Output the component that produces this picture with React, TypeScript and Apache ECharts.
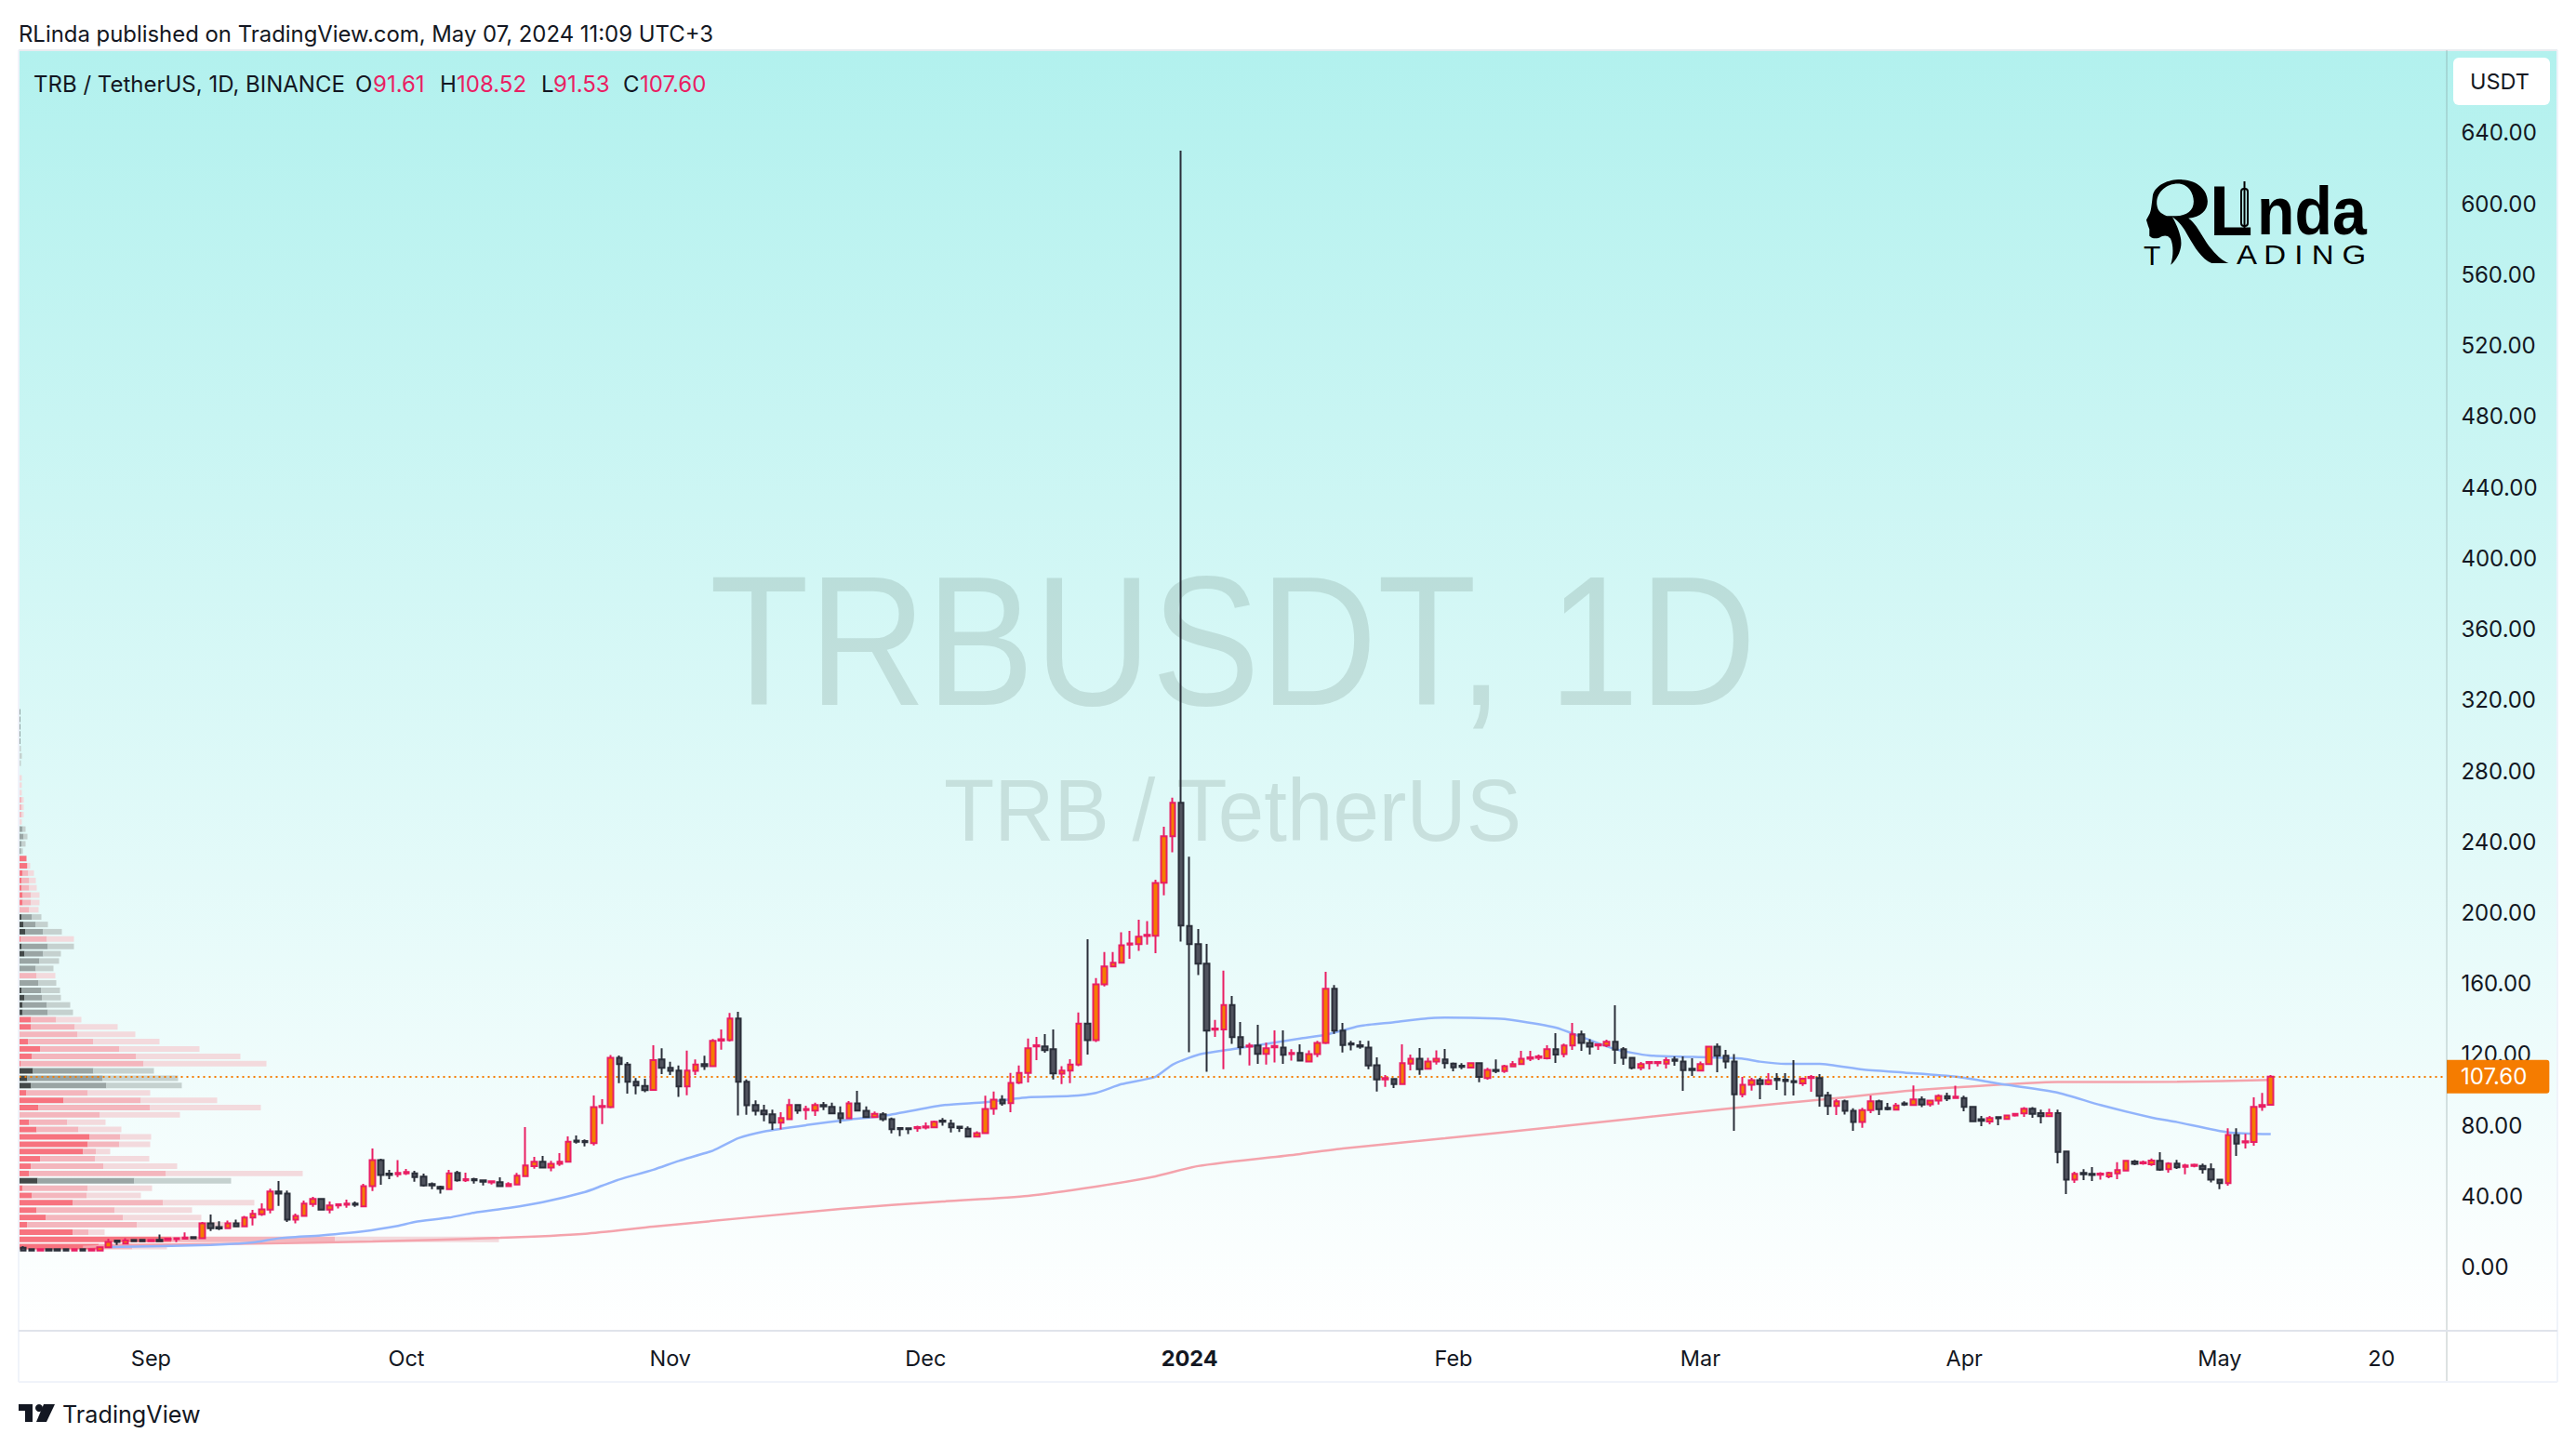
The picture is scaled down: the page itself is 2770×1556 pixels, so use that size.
import React, { useEffect, useRef } from "react";
import * as echarts from "echarts";

// ---------- daily candles, rows are [open, close, low, high] ----------
const candlesAug2023 = [[11,9.4,9.4,11.9],[10.2,9.4,9.4,10.2],[9.4,10.2,9.4,10.2],[10.2,9.4,9.4,10.2],[10.2,9.4,9.4,10.2],[10.2,9.4,9.4,10.2],[9.4,10.2,9.4,10.2],[10.2,9.4,9.4,10.2],[9.4,10.2,9.4,10.2],[9.4,11.2,9.4,11.2],[11.2,14.3,10.9,16.1],[15,14.3,12.6,15],[13.3,15,13.3,16.4],[15.4,14.7,14.7,15.4],[15.4,14.7,14.4,15.4]];
const candlesSep2023 = [[14.7,15.4,14.7,15.4],[15.4,14.7,14.7,18.5],[15.4,16.1,15,16.3],[15.9,16.4,14.2,16.4],[16.1,16.8,15.7,19.6],[17,16.3,16.3,17],[16.4,24.8,16.4,25.5],[24.8,22,20.5,29.7],[22.7,21.9,21,25.9],[22,24.8,21.5,26.4],[24.8,23.1,22.6,26.9],[23.1,28,23.1,29],[28,30.1,23.6,32.4],[29.9,32.7,28.9,36],[32.5,42.7,30.4,44.3],[42.7,41.5,34.6,48.6],[41.6,26.8,25.5,43.2],[26.8,29,24.7,30.3],[29,35.9,29,37.6],[35.7,38.5,34.1,39.7],[38.5,32.5,32,38.5],[32.5,34.8,30.4,37.1],[34.8,35.5,33.1,36],[35.2,35.9,33.6,38.1],[35.9,35.2,34.1,37.1],[34.3,45.7,34.3,47.1],[45.8,60.5,43,67],[60.5,52.1,46.5,61.2],[52.8,52,49.7,54.9],[52.5,53.2,50.9,60.4]];
const candlesOct2023 = [[53,53.7,52,55.5],[53,50.9,48.3,54.4],[51.1,46.2,45.5,52.8],[46.9,46.2,44.1,47.9],[45.3,44.3,41.5,46],[44.1,53,43.7,54.9],[53.2,49,48.3,54.4],[49,49.7,48.1,53.3],[49.7,49,47.2,50.5],[49,48.3,46.2,49],[47.8,48.5,46.7,48.5],[48,45.8,45.8,50.7],[45.8,46.9,45.8,48],[46.7,51.6,46.7,53.2],[51.4,57.4,50.9,79.1],[57,59.5,55.6,62.3],[59.5,56.3,56.3,62.8],[56.3,58.4,54.1,60],[58.4,59.5,57.2,64.4],[59.5,70.8,59.5,73.8],[71.5,70.8,69.8,74.3],[71.2,70.5,68.2,72.1],[70,90.3,68.7,96.9],[90.3,91,80.8,94.8],[90.3,118.2,89.7,119.8],[118.2,114.6,103.9,119.5],[114.4,104.6,98,115.8],[104.6,102.5,97.6,106.7],[102.3,99.9,98.8,106.3],[100.1,116.9,100.1,125.3],[117.3,112.5,109,123.5]];
const candlesNov2023 = [[112.5,110.8,108.5,115.9],[111,102,96.1,113.8],[102,111,97.1,122.2],[110.8,114.4,108.5,117.3],[114.6,113.4,111.3,119.3],[113.4,127.7,113.4,128.8],[127.9,128.6,122.7,134.2],[128.1,140.3,127.4,143.5],[140.3,104.7,85.6,144.2],[104.7,91.4,86,105.9],[91.5,88.2,85.6,94.2],[88.4,86.3,82.3,91.7],[86.3,81.6,77.5,88.9],[81.6,84.2,77.7,87.5],[83.5,91.5,83,94.9],[91.5,88.4,86.5,92.1],[88.6,89.3,83.3,91.2],[88.4,91.5,85.4,92.8],[91.5,90.7,88.7,93.3],[90.5,86.8,86.8,92.8],[86.8,84,81.2,90.7],[84,92.4,84,93.8],[92.4,88.4,88.4,99.6],[88.2,84.7,84.7,90.7],[84.7,86.5,84.7,87.9],[86.3,83.5,82.4,87.5],[83.5,77.9,75.5,84.4],[78.6,77.9,73.9,79.1],[78.4,77.9,75.1,78.4],[78.4,79.1,76.5,79.8]];
const candlesDec2023 = [[78.8,79.5,77.7,81.7],[78.9,82.1,78.9,82.8],[82.8,82.1,79.8,84.2],[81,78.9,76,83.3],[79.3,78.6,76.3,79.3],[78.2,73.7,73.7,79.5],[73.7,75.6,73.7,76.7],[75.6,89.3,75.3,96.8],[89.4,94.5,86,99.1],[94.5,92.4,91.2,97],[92.6,104,87.5,109.6],[104.1,109.7,103.3,113.8],[109.7,123.5,104.3,129],[124.6,125.3,116.9,130],[124.6,122.5,121.1,131.6],[123,109.4,105.9,134.2],[109.2,111,103.3,113.4],[111,114.4,103.8,117.4],[114.4,137.5,113.4,143.7],[137.5,128.1,120,185.1],[128.1,159.6,127.1,163.1],[159.6,169.7,158.5,177.8],[169.7,171.8,169.7,177.8],[171.8,181.6,171.8,189],[182,182.7,174.1,189.8],[182.3,186.5,178.5,196.1],[186.9,187.6,182,195.3],[187,216.8,177.2,218.7],[216.9,243.2,209.9,248.6],[243.2,262.1,234.1,264.9],[262.1,192.8,183.7,630]];
const candlesJan2024 = [[192.6,182.3,121.3,231.6],[182.3,171.3,164.8,190.9],[171.3,133.5,110.3,182.5],[134,134.7,130,139.5],[134.2,148,111.7,167.3],[148,129.8,126,153.1],[129.8,124.2,119.7,138.4],[124.4,125.1,113.9,126.5],[125.1,120.4,114.8,136.8],[120.4,123.5,114.4,126.7],[124.1,124.8,115.5,133.7],[123.9,119.9,114.8,133.7],[120.2,120.9,116.6,123],[120.9,116.6,116.6,125.8],[116.1,120.3,116.1,122.4],[120.3,126.5,118.6,127.7],[126.5,157.1,125.9,166.7],[157.1,133.5,131.7,159.2],[133.5,125.4,121.2,137.8],[126.3,125.6,122.3,127.7],[125.2,124.5,123.3,127.9],[124,113.9,111.8,127.7],[114,106,99.2,118.4],[106,106.7,101.8,108.4],[106.2,103.4,101.1,106.2],[103.4,115.1,103.4,125.8],[114.9,117.7,111.1,120],[117.7,111.8,108.6,123.7],[112,116.1,112,118.2],[116,117.7,114.4,122.4],[117.2,115.1,112.1,123.1]];
const candlesFeb2024 = [[114.9,112.8,110.5,115.6],[113.7,113,111.8,115.1],[112.6,115.1,112.1,115.1],[115.1,107.4,104.4,115.1],[106.7,111.4,105.8,112.5],[111.4,110.7,109.5,117.2],[110.7,113.5,109.7,114.2],[113.3,114.6,113.3,116.3],[114.6,117.7,114.6,122.1],[117.7,118.4,116.3,122.1],[118.2,118.9,116.8,120],[117.9,123,117.2,125.2],[123,120,115.3,132.1],[120.2,125.1,118.4,126.1],[125.1,131.4,122.6,137.8],[131.4,126.5,122.1,133.5],[126.5,124.5,120,128.7],[125.1,125.8,122.6,126.3],[125.1,127.2,124.2,128.4],[127.2,122.8,114.7,147.8],[123,118.2,114.2,124.2],[118.2,112.5,111.6,118.2],[112.5,114.6,111.1,115.8],[115.1,115.8,111.6,116.3],[115.1,115.8,113.3,116.3],[114.9,116.8,112.1,118.4],[117.2,116.5,113.7,118.9],[116.1,111.2,99.5,118.9],[112,111.2,107.9,117.9]];
const candlesMar2024 = [[110.9,114.6,110.9,116.1],[114.6,124.5,114.6,124.5],[124.5,119.3,110,126.3],[119.3,116,112.1,122.6],[116.1,97.6,77,120.3],[97.6,103,95.9,107.4],[103,105.6,99.7,106.9],[105.6,103.4,94.8,106.9],[103.4,105.6,102.7,109.5],[106.3,105.6,100.1,109.5],[105.8,105.1,96.9,109.5],[105.1,104.4,96.9,116.8],[103.7,106.3,102.3,107],[106.7,107.4,99,108.4],[106.7,96.7,90.6,109],[97.1,91,85.9,99],[91,93.6,85.9,94.8],[93.6,88.2,86.2,94.6],[88.2,81.9,77,89.7],[81.9,88.7,78.7,89.9],[88.7,93.6,86.9,96.9],[93.6,89.2,85.9,94.5],[89.9,89.2,88.5,92.7],[88.9,91.3,88.9,92.7],[92.5,91.8,91,93.6],[91.5,94.7,91.5,102.6],[94.7,91.8,90.3,96.4],[91.9,94,90.6,94.3],[94,96.7,91.8,97.6],[96.5,95.2,93.8,98.5],[95.5,96.2,95.5,102.4]];
const candlesApr2024 = [[95.5,90.5,88,96.8],[90.5,82.4,81.9,91],[83.5,82.6,79.6,85.4],[82.2,84.2,80.7,85.4],[84.7,84,80.1,84.7],[83.6,85.6,83.6,86.1],[85.6,86.6,85,87],[86.8,89.4,84.9,90.3],[89.4,86.6,84.3,90.3],[87,85.2,81.2,88.9],[85.2,87,85.2,89.4],[87,65.1,58.6,88.9],[65.3,49.4,41.3,65.3],[49.4,52.7,47.6,53.9],[53.2,52.5,49.2,55.3],[52.7,52,48.7,56.5],[52.2,52.9,49.4,53.6],[51.3,53.2,50.2,53.9],[53,54.8,49.7,59.2],[54.6,60,54.3,60],[59.7,58.3,57.6,60.6],[58.6,59.3,57.8,60.2],[58.1,60.2,57.2,61.3],[60,55.1,54.4,64.9],[55.3,58.5,53.4,59.2],[58.5,56.4,55.5,60.6],[56.7,57.4,52.5,58.3],[57.1,57.8,56.4,58.5],[57.1,55.3,52.9,58.5],[55.3,49.4,47.8,58.6]];
const candlesMay2024 = [[49.4,47.4,44.1,49.4],[47.4,74.6,46,78.4],[74.6,69.8,62.8,78.4],[70.4,71.1,67,75.3],[70.7,90.5,68.6,95.9],[90.5,91.5,88.2,98.3],[91.61,107.6,91.53,108.52]];

const candles = [...candlesAug2023, ...candlesSep2023, ...candlesOct2023, ...candlesNov2023, ...candlesDec2023, ...candlesJan2024, ...candlesFeb2024, ...candlesMar2024, ...candlesApr2024, ...candlesMay2024];

// ---------- moving averages, [candle index, price] ----------
const blueAverage = [[10,11.4],[21.6,12.6],[26.5,14],[30.4,16.3],[35.3,18],[40.1,20.3],[43.6,23.3],[46,25.5],[50,28],[53,30.8],[57,33.4],[60.6,36.7],[66,42.5],[68,46],[70,49.5],[73.7,55],[76.6,60],[80.5,65.8],[83.7,72.8],[87.4,76.6],[92.2,80.2],[97,83.3],[101,85.4],[107.9,91.4],[112.7,93.1],[117.6,95.9],[122.5,96.6],[126,98.4],[129.3,103.3],[133,107.5],[135,114.3],[137.8,119.9],[142,123],[150,129.1],[152.6,131.2],[157,136.1],[161,138.2],[164.9,140.5],[167.3,140.8],[173,140.3],[175,139.4],[180,135.2],[183.4,130],[186.8,123],[191,119.5],[198,118.4],[201.9,117.7],[203.9,116],[207,114.8],[211,114.8],[215.8,111.6],[220.9,109.8],[226.8,107.5],[233,102.9],[238.7,98.5],[243.7,91.5],[249.8,84.5],[253.3,81.9],[258.8,76.1],[264,75.1]];
const redAverage = [[7,11.5],[11.9,12.6],[26.5,13.3],[41,14.5],[55.8,16.6],[65.5,18.9],[73.7,22.9],[95.7,32.9],[107.9,37.1],[117.6,40.3],[126,45.5],[133,51.3],[137.8,57.1],[150,63.9],[155,67],[166.8,72.8],[180,79.2],[198.9,88.9],[213.5,95.9],[221,99.4],[227,101.5],[238.7,104.5],[253.3,104.6],[264,105.7]];

// ---------- visible-range volume profile, top row to bottom row ----------
const vpPrices = [313.3,309.2,305,300.9,296.8,292.6,288.5,284.4,280.2,276.1,272,267.8,263.7,259.6,255.4,251.3,247.2,243,238.9,234.8,230.6,226.5,222.4,218.2,214.1,210,205.8,201.7,197.6,193.4,189.3,185.2,181,176.9,172.8,168.6,164.5,160.4,156.2,152.1,148,143.8,139.7,135.6,131.4,127.3,123.2,119,114.9,110.8,106.6,102.5,98.4,94.2,90.1,86,81.8,77.7,73.6,69.4,65.3,61.2,57,52.9,48.8,44.6,40.5,36.4,32.2,28.1,24,19.8,15.7,11.6];
const vpInner = [1,1,1,1,1,0,0,0,0,0,0,0,1,1,1,0,1,1,1,1,8,9,4,3,3,4,4,1,3,5,7,2,3,6,1,1,0.5,0.5,3,6,4,4,13,13,1,10,23,14,2,15,9,13,8,48,21,1,11,19,76,74,69,23,13,11,20,4,14,58,19,29,9,58,164,86];
const vpMiddle = [1,1,1,1,1,0,0,0,0,0,0,0,3,3,3,0,4,5,3,2,8,9,10,11,11,13,13,11,14,18,26,30,31,26,22,18,19,21,24,25,30,31,40,60,63,80,108,126,134,80,90,94,74,131,141,87,52,64,109,108,83,82,91,158,124,74,73,155,103,112,127,75,340,122];
const vpOuter = [1,1,1,1,1,2,3,2,0,3,3,3,5,5,5,3,7,9,7,4,8,12,16,18,19,22,22,21,24,31,46,59,59,45,43,37,39,40,44,45,55,58,67,106,125,151,194,238,266,145,171,175,141,213,260,173,93,110,142,141,98,140,170,305,228,143,131,253,186,196,240,92,516,159];
const vpIsRed = [0,0,0,0,0,0,0,0,0,1,1,1,1,1,1,1,0,0,0,0,1,1,1,1,1,1,1,1,0,0,0,1,0,0,0,0,1,0,0,0,0,0,1,1,1,1,1,1,1,0,0,0,1,1,1,1,1,1,1,1,1,1,1,1,0,1,1,1,1,1,1,1,1,1];

const priceTicks = [0,40,80,120,160,200,240,280,320,360,400,440,480,520,560,600,640];
const timeLabels: Record<number, string> = { 15: "Sep", 45: "Oct", 76: "Nov", 106: "Dec", 137: "{b|2024}", 168: "Feb", 197: "Mar", 228: "Apr", 258: "May", 277: "20" };
const categories: string[] = [];
for (let i = 0; i < 285; i++) {
  categories.push(new Date(Date.UTC(2023, 7, 17 + i)).toISOString().slice(0, 10));
}
const legendParts = [
  { text: "TRB / TetherUS, 1D, BINANCE", x: 36, fill: "#131722" },
  { text: "O", x: 382, fill: "#131722" },
  { text: "91.61", x: 401, fill: "#E91E63" },
  { text: "H", x: 473, fill: "#131722" },
  { text: "108.52", x: 491, fill: "#E91E63" },
  { text: "L", x: 582, fill: "#131722" },
  { text: "91.53", x: 595, fill: "#E91E63" },
  { text: "C", x: 670, fill: "#131722" },
  { text: "107.60", x: 688, fill: "#E91E63" },
];
const lastClose = 107.6;

const rlindaPath =
  "M195 540C205 505 250 488 290 490C340 492 372 525 372 560C372 590 350 610 310 615C340 635 355 680 385 715C405 740 425 755 440 760L385 760C350 745 325 700 305 665C295 645 280 625 258 610C275 640 292 680 285 710C280 735 265 755 253 765C262 735 262 700 252 680C240 668 230 670 215 678C200 682 190 678 184 672L184 650L180 640L174 620L185 600C190 590 192 565 195 540Z" +
  "M208 570C210 590 220 600 240 607L270 607C305 607 327 590 327 560C327 535 310 503 275 503C240 503 205 530 208 570Z";
echarts.graphic.registerShape("rlindaHead", echarts.graphic.extendPath(rlindaPath, {}));

const UI = "Inter, 'Noto Sans', sans-serif";
const text = (t: string, x: number, y: number, size: number, fill: string, extra: any = {}) => ({
  type: "text",
  x,
  y,
  z: extra.z ?? 20,
  scaleX: extra.scaleX ?? 1,
  silent: true,
  style: {
    text: t,
    fill,
    fontSize: size,
    fontFamily: extra.family ?? UI,
    fontWeight: extra.weight ?? 400,
    textAlign: extra.align ?? "left",
    textVerticalAlign: extra.valign ?? "middle",
  },
});
const line = (x1: number, y1: number, x2: number, y2: number, stroke: string) => ({
  type: "line",
  z: 15,
  silent: true,
  shape: { x1, y1, x2, y2 },
  style: { stroke, lineWidth: 2 },
});

export default function App() {
  const ref = useRef<HTMLDivElement>(null);
  useEffect(() => {
    const chart = echarts.init(ref.current!, undefined, { renderer: "svg" });
    const vpRows = vpPrices.map((p, i) => [p, vpInner[i], vpMiddle[i], vpOuter[i], vpIsRed[i]]);
    chart.setOption({
      animation: false,
      backgroundColor: "#ffffff",
      grid: { left: 20.5, top: 54, width: 2608.9, height: 1377, containLabel: false },
      xAxis: [
        {
          type: "category",
          data: categories,
          boundaryGap: true,
          axisLine: { show: false },
          axisTick: { show: false },
          splitLine: { show: false },
          axisLabel: {
            interval: (i: number) => timeLabels[i] !== undefined,
            formatter: (_: string, i: number) => timeLabels[i] ?? "",
            margin: 17,
            fontSize: 23.5,
            fontFamily: UI,
            color: "#131722",
            hideOverlap: false,
            rich: { b: { fontSize: 23.5, fontWeight: 700, fontFamily: UI, color: "#131722" } },
          },
        },
        { type: "value", show: false, min: 0, max: 2608.9, gridIndex: 0 },
      ],
      yAxis: {
        type: "value",
        position: "right",
        min: -35.84,
        max: 686.69,
        axisLine: { show: false },
        axisTick: { show: false },
        splitLine: { show: false },
        axisLabel: {
          customValues: priceTicks,
          formatter: (v: number) => v.toFixed(2),
          margin: 17,
          fontSize: 24,
          fontFamily: UI,
          color: "#131722",
        },
      },
      series: [
        {
          type: "custom",
          name: "Volume profile",
          xAxisIndex: 1,
          yAxisIndex: 0,
          z: 2,
          silent: true,
          encode: { x: [1, 2, 3], y: 0 },
          data: vpRows,
          renderItem: (_: any, api: any) => {
            const price = api.value(0);
            const red = api.value(4) === 1;
            const top = api.coord([0, price + 1.57]);
            const bottom = api.coord([0, price - 1.57]);
            const colors = red ? ["#F7737F", "#F4B6BD", "#F3DADD"] : ["#434948", "#9AA5A4", "#C5D1CF"];
            const ends = [api.value(1), api.value(2), api.value(3)];
            const rect = (a: number, b: number, fill: string) => {
              const x0 = api.coord([a, price])[0];
              const x1 = api.coord([b, price])[0];
              return { type: "rect", shape: { x: x0, y: top[1], width: x1 - x0, height: bottom[1] - top[1] }, style: { fill } };
            };
            return {
              type: "group",
              children: [rect(0, ends[0], colors[0]), rect(ends[0], ends[1], colors[1]), rect(ends[1], ends[2], colors[2])],
            };
          },
        },
        {
          type: "line",
          name: "Average 2",
          data: redAverage,
          z: 3,
          symbol: "none",
          smooth: 0.2,
          silent: true,
          lineStyle: { color: "#F4A3AC", width: 2.5 },
        },
        {
          type: "line",
          name: "Average 1",
          data: blueAverage,
          z: 3,
          symbol: "none",
          smooth: 0.2,
          silent: true,
          lineStyle: { color: "#92B4FB", width: 2.5 },
        },
        {
          type: "candlestick",
          name: "TRB / TetherUS",
          data: candles,
          z: 5,
          barWidth: 6,
          silent: true,
          itemStyle: {
            color: "#F57C00",
            color0: "#50535E",
            borderColor: "#E91E63",
            borderColor0: "#2A2E39",
            borderWidth: 2,
          },
          markLine: {
            silent: true,
            symbol: ["none", "none"],
            animation: false,
            lineStyle: { color: "#F57C00", type: [2, 4], width: 2 },
            label: {
              show: true,
              position: "end",
              distance: 1.6,
              formatter: lastClose.toFixed(2),
              color: "#ffffff",
              fontSize: 24,
              fontFamily: UI,
              backgroundColor: "#F57C00",
              padding: [6, 24, 6, 15],
              borderRadius: [0, 3, 3, 0],
            },
            data: [{ yAxis: lastClose }],
          },
        },
      ],
      graphic: [
        {
          type: "rect",
          z: -1,
          silent: true,
          shape: { x: 20, y: 54, width: 2730, height: 1377 },
          style: {
            fill: new echarts.graphic.LinearGradient(0, 0, 0, 1, [
              { offset: 0, color: "#B2F1EE" },
              { offset: 1, color: "#FFFFFF" },
            ]),
          },
        },
        text("TRBUSDT, 1D", 763, 690, 198, "rgba(58,82,67,0.15)", { family: "'Liberation Sans', sans-serif", z: 1, scaleX: 0.882 }),
        text("TRB / TetherUS", 1015, 871, 94, "rgba(58,82,67,0.15)", { family: "'Liberation Sans', sans-serif", z: 1, scaleX: 0.946 }),
        line(20, 54, 2750, 54, "#E8ECF0"),
        line(20, 54, 20, 1486, "#F0F3FA"),
        line(2750, 54, 2750, 1486, "#F0F3FA"),
        line(2631, 54, 2631, 1486, "rgba(120,140,140,0.25)"),
        line(20, 1431, 2750, 1431, "#E0E3EB"),
        line(20, 1486, 2750, 1486, "#F0F3FA"),
        text("RLinda published on TradingView.com, May 07, 2024 11:09 UTC+3", 20, 36, 23.9, "#131722"),
        ...legendParts.map((p) => text(p.text, p.x, 90, 24, p.fill)),
        {
          type: "rect",
          z: 16,
          silent: true,
          shape: { x: 2638, y: 62, width: 104, height: 51, r: 6 },
          style: { fill: "#ffffff" },
        },
        text("USDT", 2688, 87, 23.5, "#131722", { align: "center" }),
        { type: "rlindaHead", x: 2250, y: 30, scaleX: 1 / 3, scaleY: 1 / 3, z: 10, silent: true, style: { fill: "#000000" } },
        text("L", 2376, 264, 76, "#000000", { family: "'Liberation Sans', sans-serif", weight: 700, valign: "bottom", z: 10 }),
        text("nda", 2427, 263, 72, "#000000", { family: "'Liberation Sans', sans-serif", weight: 700, valign: "bottom", z: 10, scaleX: 0.92 }),
        { type: "rect", z: 10, silent: true, shape: { x: 2410, y: 203, width: 7, height: 40, r: 3 }, style: { fill: "none", stroke: "#000", lineWidth: 2 } },
        { type: "line", z: 10, silent: true, shape: { x1: 2413.5, y1: 195, x2: 2413.5, y2: 250 }, style: { stroke: "#000", lineWidth: 2 } },
        text("T", 2305, 289, 30, "#000000", { family: "'Liberation Sans', sans-serif", valign: "bottom", z: 10 }),
        text("A D I N G", 2405, 289, 30, "#000000", { family: "'Liberation Sans', sans-serif", valign: "bottom", z: 10, scaleX: 1.1 }),
        { type: "polygon", z: 20, silent: true, shape: { points: [[20, 1510], [35, 1510], [35, 1529], [27, 1529], [27, 1517], [20, 1517]] }, style: { fill: "#131722" } },
        { type: "circle", z: 20, silent: true, shape: { cx: 42, cy: 1514, r: 4 }, style: { fill: "#131722" } },
        { type: "polygon", z: 20, silent: true, shape: { points: [[47, 1510], [59, 1510], [50, 1529], [39, 1529]] }, style: { fill: "#131722" } },
        text("TradingView", 67, 1521, 25.2, "#131722"),
      ],
    });
    return () => chart.dispose();
  }, []);
  return <div ref={ref} style={{ position: "absolute", left: 0, top: 0, width: 2770, height: 1556 }} />;
}
